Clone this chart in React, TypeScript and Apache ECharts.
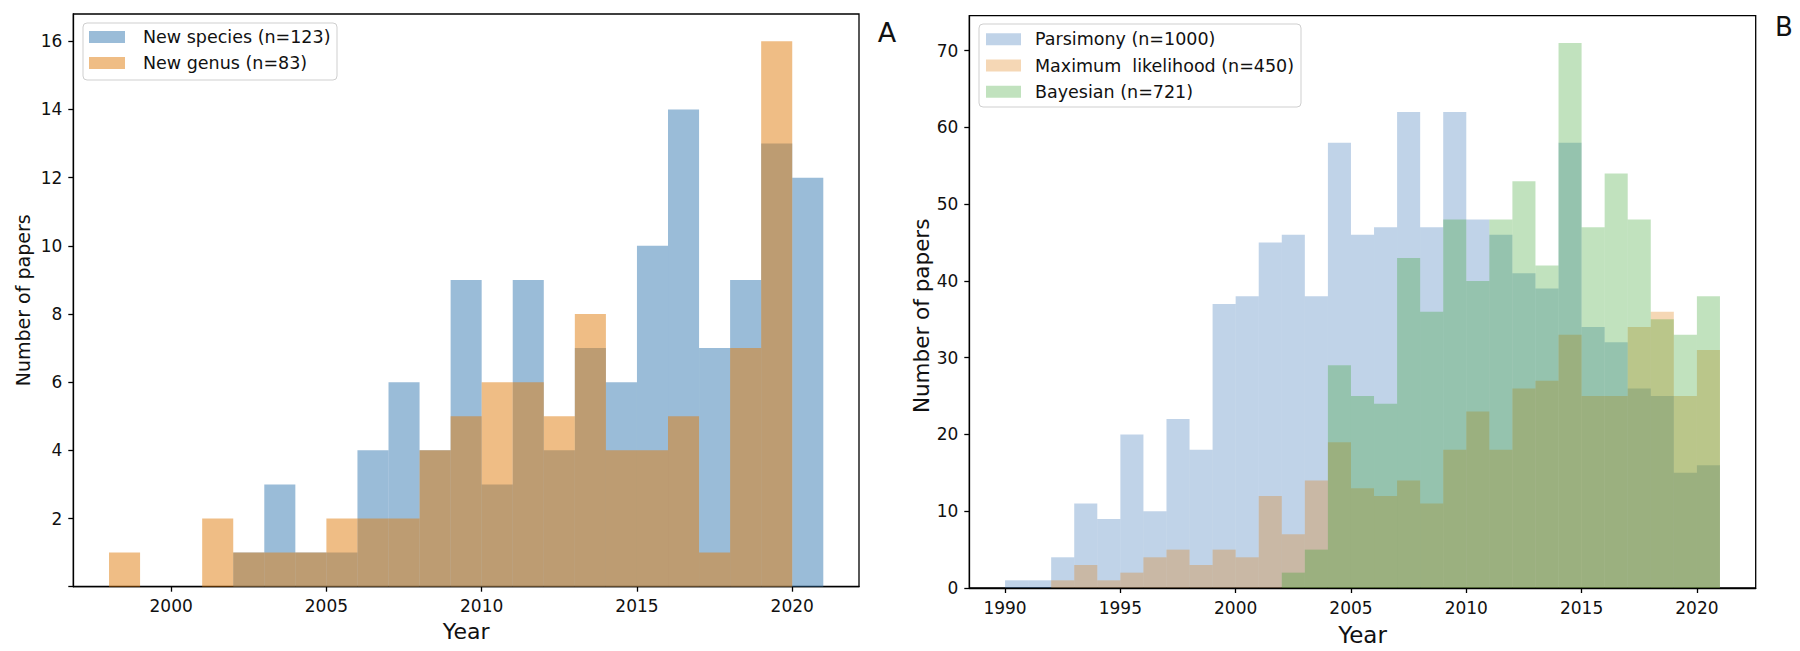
import React, { useEffect, useRef } from "react";
import * as echarts from "echarts";

// ---------- Panel A data (1-year bins, bin start years) ----------
const binStartA = [1998, 1999, 2000, 2001, 2002, 2003, 2004, 2005, 2006, 2007, 2008, 2009, 2010, 2011, 2012, 2013, 2014, 2015, 2016, 2017, 2018, 2019, 2020];
const newSpecies = [0, 0, 0, 0, 1, 3, 1, 1, 4, 6, 4, 9, 3, 9, 4, 7, 6, 10, 14, 7, 9, 13, 12];
const newGenus = [1, 0, 0, 2, 1, 1, 1, 2, 2, 2, 4, 5, 6, 6, 5, 8, 4, 4, 5, 1, 7, 16, 0];

// ---------- Panel B data ----------
const binStartB = [1990, 1991, 1992, 1993, 1994, 1995, 1996, 1997, 1998, 1999, 2000, 2001, 2002, 2003, 2004, 2005, 2006, 2007, 2008, 2009, 2010, 2011, 2012, 2013, 2014, 2015, 2016, 2017, 2018, 2019, 2020];
const parsimony = [1, 1, 4, 11, 9, 20, 10, 22, 18, 37, 38, 45, 46, 38, 58, 46, 47, 62, 47, 62, 48, 46, 41, 39, 58, 34, 32, 26, 25, 15, 16];
const maxLikelihood = [0, 0, 1, 3, 1, 2, 4, 5, 3, 5, 4, 12, 7, 14, 19, 13, 12, 14, 11, 18, 23, 18, 26, 27, 33, 25, 25, 34, 36, 25, 31];
const bayesian = [0, 0, 0, 0, 0, 0, 0, 0, 0, 0, 0, 0, 2, 5, 29, 25, 24, 43, 36, 48, 40, 48, 53, 42, 71, 47, 54, 48, 35, 33, 38];

// ---------- Ticks ----------
const xTicksA = [2000, 2005, 2010, 2015, 2020];
const yTicksA = [0, 2, 4, 6, 8, 10, 12, 14, 16];
const yLabelsA = [2, 4, 6, 8, 10, 12, 14, 16];
const xTicksB = [1990, 1995, 2000, 2005, 2010, 2015, 2020];
const yTicksB = [0, 10, 20, 30, 40, 50, 60, 70];

const legendA = ["New species (n=123)", "New genus (n=83)"];
const legendB = ["Parsimony (n=1000)", "Maximum  likelihood (n=450)", "Bayesian (n=721)"];

const FONT = "DejaVu Sans";
const TXT = "#111";

const cBlueA = "rgba(53,121,177,0.5)";
const cOrangeA = "rgba(223,123,11,0.5)";
const cBlueB = "rgba(45,108,178,0.3)";
const cOrangeB = "rgba(223,123,11,0.3)";
const cGreenB = "rgba(50,160,40,0.3)";

function hist(starts: number[], counts: number[]) {
  return starts.map((s, i) => [s, s + 1, counts[i]]);
}

function histSeries(name: string, idx: number, data: number[][], color: string) {
  return {
    type: "custom",
    name,
    xAxisIndex: idx,
    yAxisIndex: idx,
    itemStyle: { color },
    encode: { x: [0, 1], y: 2 },
    data,
    renderItem: (params: any, api: any) => {
      const x0 = api.value(0);
      const x1 = api.value(1);
      const v = api.value(2);
      if (!v) return null;
      const p0 = api.coord([x0, v]);
      const p1 = api.coord([x1, 0]);
      return {
        type: "rect",
        shape: { x: p0[0], y: p0[1], width: p1[0] - p0[0], height: p1[1] - p0[1] },
        style: { fill: color },
      };
    },
  };
}

const lineStyle = { color: "#000", width: 1.3 };

function xAxis(idx: number, min: number, max: number, ticks: number[], gap: number, nameSize: number) {
  return {
    gridIndex: idx,
    type: "value",
    min,
    max,
    splitLine: { show: false },
    axisLine: { show: true, onZero: false, lineStyle },
    axisTick: { show: true, length: 5, customValues: ticks, lineStyle },
    axisLabel: {
      customValues: ticks,
      fontSize: 17,
      margin: 11,
      color: TXT,
      fontFamily: FONT,
      formatter: (v: number) => String(v),
    },
    name: "Year",
    nameLocation: "middle",
    nameGap: gap,
    nameTextStyle: { fontSize: nameSize, fontFamily: FONT, color: TXT },
  };
}

function yAxis(idx: number, max: number, ticks: number[], labels: number[], gap: number, pad: number[], nameSize: number) {
  return {
    gridIndex: idx,
    type: "value",
    min: 0,
    max,
    splitLine: { show: false },
    axisLine: { show: true, lineStyle },
    axisTick: { show: true, length: 5, customValues: ticks, lineStyle },
    axisLabel: {
      customValues: labels,
      fontSize: 17,
      margin: 11,
      color: TXT,
      fontFamily: FONT,
      formatter: (v: number) => String(v),
    },
    name: "Number of papers",
    nameLocation: "middle",
    nameGap: gap,
    nameRotate: 90,
    nameTextStyle: { fontSize: nameSize, fontFamily: FONT, color: TXT, padding: pad },
  };
}

function legendBox(x: number, y: number, w: number, h: number, items: string[], colors: string[], px: number, pw: number, py0: number, tx: number, ty0: number, step: number) {
  const children: any[] = [
    {
      type: "rect",
      shape: { x, y, width: w, height: h, r: 4 },
      style: { fill: "rgba(255,255,255,0.85)", stroke: "#cfcfcf", lineWidth: 1 },
    },
  ];
  items.forEach((t, i) => {
    children.push({
      type: "rect",
      shape: { x: px, y: py0 + i * step, width: pw, height: 12 },
      style: { fill: colors[i] },
    });
    children.push({
      type: "text",
      x: tx,
      y: ty0 + i * step,
      style: { text: t, fontSize: 17.5, fontFamily: FONT, fill: TXT, align: "left", verticalAlign: "middle" },
    });
  });
  return { type: "group", z: 100, children };
}

export default function App() {
  const ref = useRef<HTMLDivElement>(null);
  useEffect(() => {
    document.body.style.margin = "0";
    const chart = echarts.init(ref.current as HTMLDivElement, undefined, { renderer: "svg" });
    const option: any = {
      animation: false,
      backgroundColor: "#fff",
      grid: [
        { left: 73.3, top: 14, width: 785.7, height: 572.7, show: true, borderColor: "#000", borderWidth: 1.3, backgroundColor: "transparent" },
        { left: 969.3, top: 15.7, width: 786.4, height: 573.6, show: true, borderColor: "#000", borderWidth: 1.3, backgroundColor: "transparent" },
      ],
      xAxis: [
        xAxis(0, 1996.85, 2022.15, xTicksA, 34, 22),
        xAxis(1, 1988.45, 2022.55, xTicksB, 35, 23),
      ],
      yAxis: [
        yAxis(0, 16.8, yTicksA, yLabelsA, 41, [0, 0, 0, 0], 19),
        yAxis(1, 74.55, yTicksB, yTicksB, 33, [0, 28, 0, 0], 21.5),
      ],
      series: [
        histSeries(legendA[0], 0, hist(binStartA, newSpecies), cBlueA),
        histSeries(legendA[1], 0, hist(binStartA, newGenus), cOrangeA),
        histSeries(legendB[0], 1, hist(binStartB, parsimony), cBlueB),
        histSeries(legendB[1], 1, hist(binStartB, maxLikelihood), cOrangeB),
        histSeries(legendB[2], 1, hist(binStartB, bayesian), cGreenB),
      ],
      graphic: [
        legendBox(83, 23, 254, 57, legendA, [cBlueA, cOrangeA], 89, 36, 31, 143, 37.3, 26),
        legendBox(979, 24, 322, 83, legendB, [cBlueB, cOrangeB, cGreenB], 986, 35, 33.3, 1035, 39.3, 26.2),
        {
          type: "text",
          x: 887,
          y: 32,
          z: 100,
          style: { text: "A", fontSize: 27, fontFamily: FONT, fill: TXT, align: "center", verticalAlign: "middle" },
        },
        {
          type: "text",
          x: 1784,
          y: 27,
          z: 100,
          style: { text: "B", fontSize: 26, fontFamily: FONT, fill: TXT, align: "center", verticalAlign: "middle" },
        },
      ],
    };
    chart.setOption(option);
    return () => chart.dispose();
  }, []);
  return <div ref={ref} style={{ width: 1800, height: 651 }} />;
}
